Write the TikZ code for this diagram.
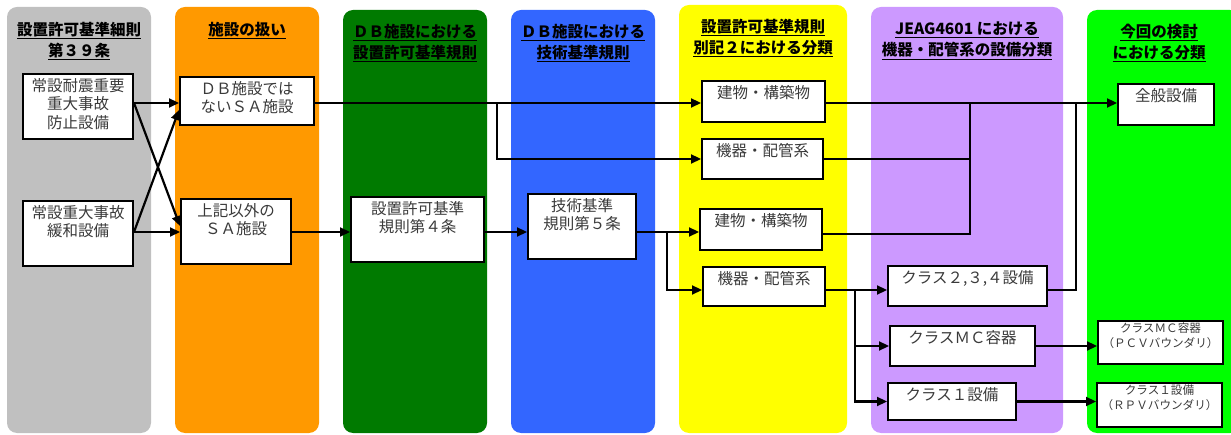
\documentclass[tikz,border=0pt]{standalone}
\usepackage{fontspec}
\setmainfont{Noto Sans CJK JP}
\usetikzlibrary{arrows.meta}
\definecolor{cgray}{HTML}{C0C0C0}
\definecolor{corange}{HTML}{FF9900}
\definecolor{cgreen}{HTML}{007A00}
\definecolor{cblue}{HTML}{3366FF}
\definecolor{cyellow}{HTML}{FFFF00}
\definecolor{cpurple}{HTML}{CC99FF}
\definecolor{clime}{HTML}{00FF00}
\definecolor{ctext}{HTML}{3A3A3A}
\newcommand\mybox[6]{%
  \node[box, minimum width={(#4)-(#2)}, minimum height={(#5)-(#3)}] (#1) at ({((#2)+(#4))/2},{((#3)+(#5))/2}) {};
  \node[btxt, anchor=north] (#1t) at (#1.north) {#6};}
\begin{document}
\begin{tikzpicture}[x=1pt,y=-1pt,
  col/.style={rounded corners=10pt},
  box/.style={draw=black, line width=2pt, fill=white, inner sep=0pt, rectangle},
  btxt/.style={align=center, inner xsep=0pt, inner ysep=5pt, text=ctext, font=\fontsize{15.5}{18.5}\selectfont},
  stxt/.style={align=center, inner xsep=0pt, inner ysep=3pt, text=ctext, font=\fontsize{11.6}{15}\selectfont},
  hd/.style={align=center, anchor=north, inner sep=0pt, font=\fontsize{15.5}{21}\selectfont\bfseries},
  arr/.style={line width=2.2pt, -{Triangle[length=10pt,width=9pt]}},
  ln/.style={line width=2.2pt},
  thin/.style={line width=1.6pt}]
\useasboundingbox (0,0) rectangle (1231,435);
% columns
\fill[cgray,col] (7,7) rectangle (151,433);
\fill[corange,col] (175,7) rectangle (319,433);
\fill[cgreen,col] (343,10) rectangle (487,433);
\fill[cblue,col] (511,10) rectangle (655,433);
\fill[cyellow,col] (679,5) rectangle (847,433);
\fill[cpurple,col] (871,7) rectangle (1063,433);
\fill[clime,col] (1087,10) rectangle (1240,433);
% headers
\node[hd] (h1) at (79,22) {\underline{設置許可基準細則}\\\underline{第３９条}};
\node[hd] (h2) at (247,22) {\underline{施設の扱い}};
\node[hd] (h3) at (415,24) {\underline{ＤＢ施設における}\\\underline{設置許可基準規則}};
\node[hd] (h4) at (583,24) {\underline{ＤＢ施設における}\\\underline{技術基準規則}};
\node[hd] (h5) at (763,19) {\underline{設置許可基準規則}\\\underline{別記２における分類}};
\node[hd] (h6) at (967,22) {\underline{JEAG4601 における}\\\underline{機器・配管系の設備分類}};
\node[hd] (h7) at (1159,24) {\underline{今回の検討}\\\underline{における分類}};
% boxes
\mybox{A1}{23}{74}{133}{139}{常設耐震重要\\重大事故\\防止設備}
\mybox{A2}{23}{201}{133}{266}{常設重大事故\\緩和設備}
\mybox{B1}{180}{77}{314}{125}{ＤＢ施設では\\ないＳＡ施設}
\mybox{B2}{181}{199}{291}{264}{上記以外の\\ＳＡ施設}
\mybox{C}{351}{197}{484}{262}{設置許可基準\\規則第４条}
\mybox{D}{528}{194}{636}{259}{技術基準\\規則第５条}
\mybox{E1}{702}{81}{825}{122}{建物・構築物}
\mybox{E2}{702}{139}{823}{179}{機器・配管系}
\mybox{E3}{700}{209}{822}{250}{建物・構築物}
\mybox{E4}{703}{267}{825}{306}{機器・配管系}
\mybox{F1}{888}{266}{1047}{306}{クラス２,３,４設備}
\mybox{F2}{890}{326}{1035}{366}{クラスＭＣ容器}
\mybox{F3}{888}{383}{1016}{420}{クラス１設備}
\mybox{G1}{1118}{84}{1214}{125}{全般設備}
\node[box, minimum width=125pt, minimum height=43pt] (G2) at (1160.5,342.5) {};
\node[stxt, anchor=north] (G2t) at (G2.north) {クラスＭＣ容器\\（ＰＣＶバウンダリ）};
\node[box, minimum width=125pt, minimum height=44pt] (G3) at (1159.5,405) {};
\node[stxt, anchor=north] (G3t) at (G3.north) {クラス１設備\\（ＲＰＶバウンダリ）};
% reference rows and junctions
\coordinate (r1) at (0,103);
\coordinate (r2) at (0,232);
\coordinate (r3) at (0,290);
\coordinate (j1) at (497,103);
\coordinate (j2) at (667,232);
\coordinate (j3) at (855,290);
\coordinate (j4) at (970,103);
\coordinate (j5) at (1076,103);
% connectors
\draw[arr] (A1.east |- r1) -- (B1.west |- r1);
\draw[arr] (A1.east |- r1) -- (B2.west |- 0,226);
\draw[arr] (A2.east |- r2) -- (B1.west |- 0,110);
\draw[arr] (A2.east |- r2) -- (B2.west |- r2);
\draw[arr] (B1.east |- r1) -- (E1.west |- r1);
\draw[arr] (j1) |- (E2.west);
\draw[arr] (B2.east |- r2) -- (C.west |- r2);
\draw[arr] (C.east |- r2) -- (D.west |- r2);
\draw[arr] (D.east |- r2) -- (E3.west |- r2);
\draw[arr] (j2) |- (E4.west |- r3);
\draw[arr] (E1.east |- r1) -- (G1.west |- r1);
\draw[thin] (E2.east) -| (j4);
\draw[ln] (E3.east |- 0,234) -| (j4);
\draw[arr] (E4.east |- r3) -- (F1.west |- r3);
\draw[arr] (j3) |- (F2.west);
\draw[arr] (j3) |- (F3.west);
\draw[thin] (F1.east |- r3) -| (j5);
\draw[arr] (F2.east) -- (F2.east -| G2.west);
\draw[arr] (F3.east) -- (F3.east -| G3.west);
\end{tikzpicture}
\end{document}
